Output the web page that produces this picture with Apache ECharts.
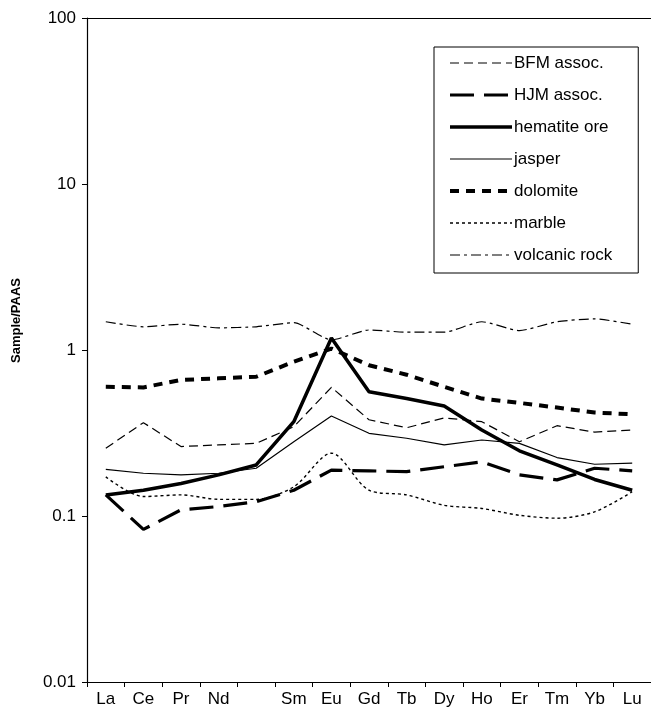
<!DOCTYPE html>
<html>
<head>
<meta charset="utf-8">
<script src="https://cdn.jsdelivr.net/npm/echarts@6/dist/echarts.min.js"></script>
<style>
html,body{margin:0;padding:0;background:#fff;}
#c{width:651px;height:716px;}
</style>
</head>
<body>
<div id="c"></div>
<script>
var categories = ['La','Ce','Pr','Nd','','Sm','Eu','Gd','Tb','Dy','Ho','Er','Tm','Yb','Lu'];
var bfm      = [0.256,0.365,0.262,0.268,0.274,0.345,0.596,0.38,0.34,0.39,0.37,0.28,0.35,0.32,0.33];
var hjm      = [0.134,0.083,0.109,0.114,0.122,0.143,0.189,0.187,0.185,0.198,0.212,0.177,0.165,0.194,0.187];
var hematite = [0.134,0.143,0.157,0.177,0.203,0.37,1.18,0.56,0.51,0.46,0.33,0.247,0.203,0.166,0.143];
var jasper   = [0.191,0.181,0.177,0.181,0.194,0.28,0.40,0.315,0.294,0.268,0.287,0.274,0.225,0.205,0.208];
var dolomite = [0.60,0.595,0.66,0.675,0.69,0.85,1.02,0.81,0.71,0.60,0.51,0.48,0.45,0.42,0.41];
var marble   = [0.172,0.131,0.134,0.126,0.126,0.150,0.239,0.143,0.134,0.116,0.111,0.101,0.097,0.106,0.14];
var volcanic = [1.48,1.38,1.43,1.36,1.38,1.46,1.15,1.32,1.28,1.28,1.48,1.31,1.48,1.54,1.43];
var yTicks = ['0.01','0.1','1','10','100'];

var font = 'Liberation Sans, Arial, sans-serif';
var styles = {
  'BFM assoc.':    {width: 1.2, type: [9, 5]},
  'HJM assoc.':    {width: 3.2, type: [24, 10]},
  'hematite ore':  {width: 3.5, type: 'solid'},
  'jasper':        {width: 1.2, type: 'solid'},
  'dolomite':      {width: 4,   type: [9, 7]},
  'marble':        {width: 1.4, type: [3, 3]},
  'volcanic rock': {width: 1.2, type: [10, 4, 3, 4]}
};
function ser(name, data, smooth) {
  var s = styles[name];
  return {
    name: name, type: 'line', data: data, symbol: 'none', smooth: smooth || false,
    lineStyle: {color: '#000', width: s.width, type: s.type, cap: 'butt'},
    itemStyle: {color: '#000'},
    emphasis: {disabled: true}
  };
}
var legendNames = ['BFM assoc.','HJM assoc.','hematite ore','jasper','dolomite','marble','volcanic rock'];
var chart = echarts.init(document.getElementById('c'), null, {renderer: 'canvas'});
chart.setOption({
  animation: false,
  backgroundColor: '#fff',
  grid: {left: 87, top: 18, width: 568, height: 664, containLabel: false},
  xAxis: [{
    type: 'category', data: categories, boundaryGap: true, position: 'bottom',
    axisLine: {lineStyle: {color: '#000', width: 1.2}},
    axisTick: {show: true, inside: false, length: 5, alignWithLabel: false, lineStyle: {color: '#000'}},
    axisLabel: {color: '#000', fontFamily: font, fontSize: 17, margin: 9, interval: 0},
    splitLine: {show: false}
  }, {
    type: 'category', data: categories, position: 'top',
    axisLine: {show: true, lineStyle: {color: '#000', width: 1.2}},
    axisTick: {show: false}, axisLabel: {show: false}, splitLine: {show: false}
  }],
  yAxis: {
    type: 'log', logBase: 10, min: 0.01, max: 100,
    axisLine: {show: true, lineStyle: {color: '#000', width: 1.2}},
    axisTick: {show: true, inside: false, length: 5, lineStyle: {color: '#000'}},
    axisLabel: {color: '#000', fontFamily: font, fontSize: 17, margin: 11,
      formatter: function (v) { var s = String(+v.toPrecision(3)); return yTicks.indexOf(s) >= 0 ? s : ''; }},
    splitLine: {show: false}
  },
  legend: {
    orient: 'vertical', left: 434, top: 47,
    backgroundColor: '#fff', borderColor: '#000', borderWidth: 1,
    padding: [6, 26, 8, 14],
    itemWidth: 62, itemHeight: 14, itemGap: 12,
    itemStyle: {opacity: 0},
    textStyle: {color: '#000', fontFamily: font, fontSize: 17, lineHeight: 20, padding: [0, 0, 0, -3]},
    data: legendNames.map(function (n) {
      return {name: n, itemStyle: {opacity: 0},
        lineStyle: {color: '#000', width: styles[n].width, type: styles[n].type, cap: 'butt', opacity: 1}};
    })
  },
  graphic: [{
    type: 'text', left: 10, top: 278, rotation: Math.PI / 2,
    style: {text: 'Sample/PAAS', fill: '#000', font: 'bold 13px Liberation Sans, Arial, sans-serif'}
  }],
  series: [
    ser('BFM assoc.', bfm),
    ser('HJM assoc.', hjm),
    ser('hematite ore', hematite),
    ser('jasper', jasper),
    ser('dolomite', dolomite),
    ser('marble', marble, 0.3),
    ser('volcanic rock', volcanic, 0.2)
  ]
});
</script>
</body>
</html>
